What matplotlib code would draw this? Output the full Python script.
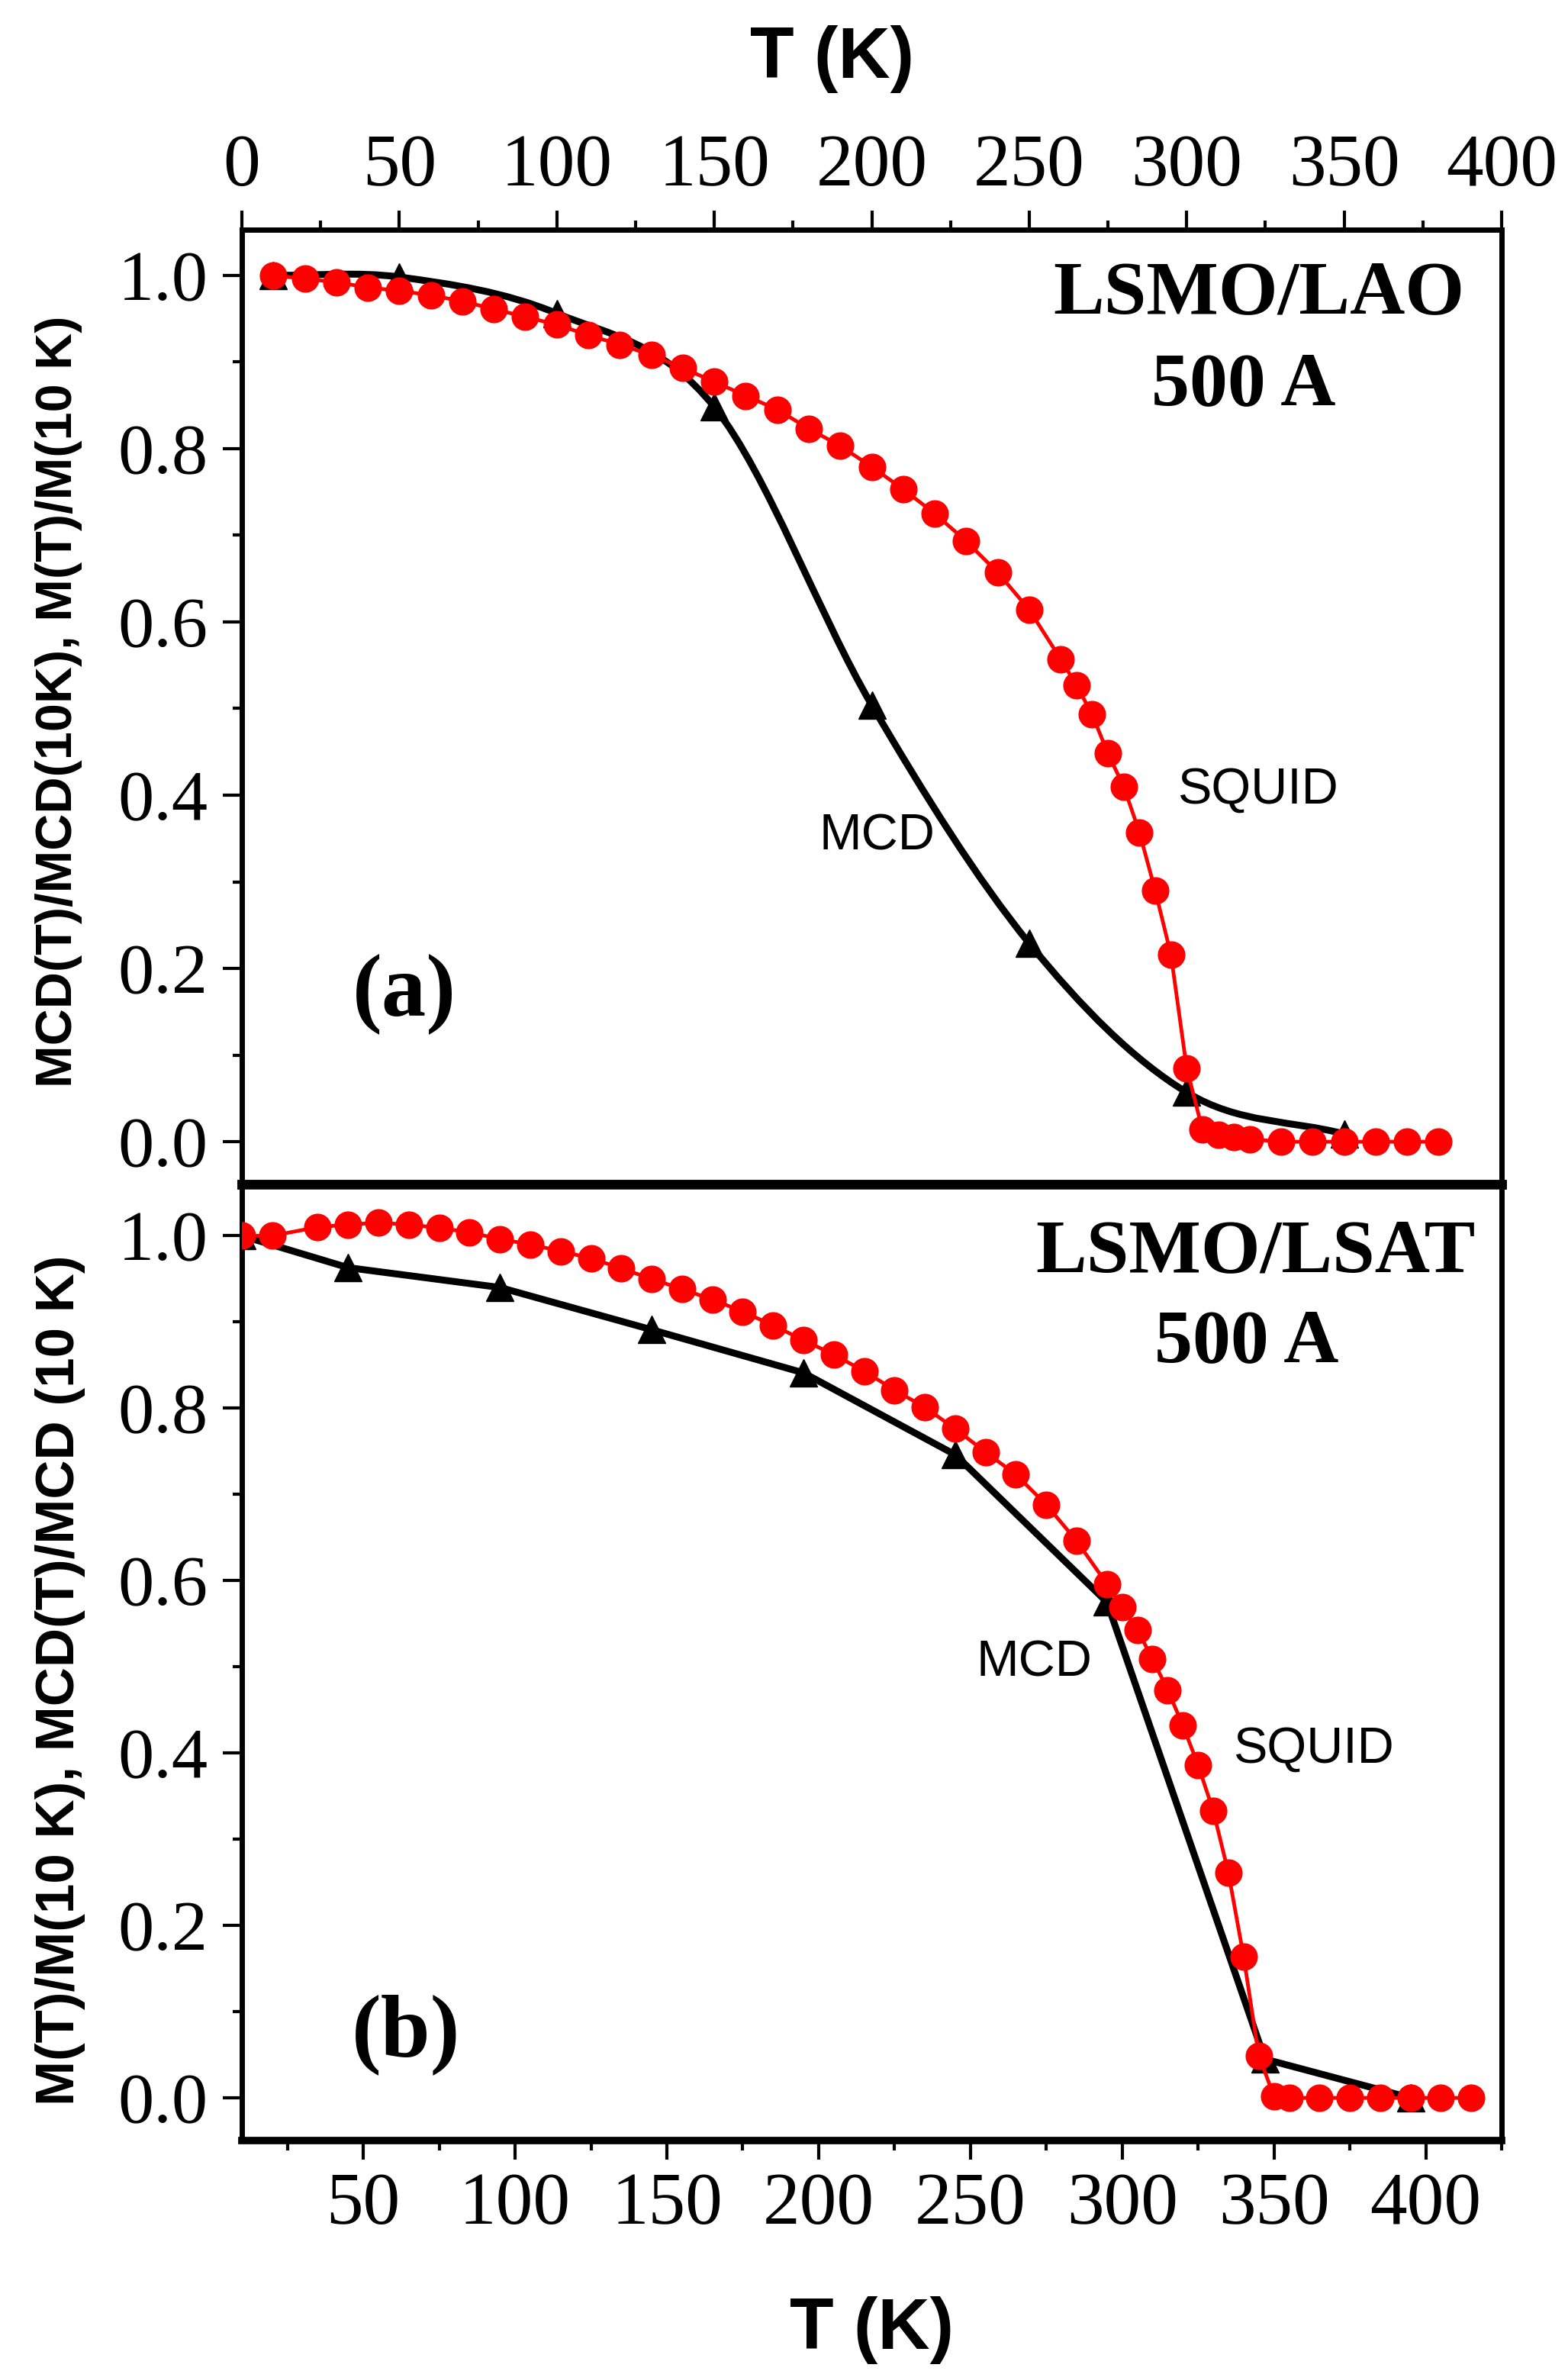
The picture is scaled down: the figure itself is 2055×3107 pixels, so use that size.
import numpy as np
import matplotlib
matplotlib.use("Agg")
import matplotlib.pyplot as plt
from matplotlib import font_manager
from matplotlib.path import Path
from matplotlib.patches import PathPatch
from matplotlib.ticker import MultipleLocator, FormatStrFormatter

# (a) LSMO/LAO, 500 A
lao_squid_T = [10, 20, 30, 40, 50, 60, 70, 80, 90, 100, 110, 120, 130, 140, 150,
               160, 170, 180, 190, 200, 210, 220, 230, 240, 250, 260, 265, 270,
               275, 280, 285, 290, 295, 300, 305, 310, 315, 320, 330, 340, 350,
               360, 370, 380]
lao_squid_M = [1.0, 0.996, 0.992, 0.986, 0.982, 0.977, 0.970, 0.961, 0.952, 0.943,
               0.931, 0.920, 0.908, 0.893, 0.877, 0.861, 0.845, 0.823, 0.803, 0.779,
               0.753, 0.725, 0.693, 0.657, 0.614, 0.557, 0.527, 0.493, 0.448, 0.410,
               0.357, 0.290, 0.216, 0.085, 0.014, 0.008, 0.005, 0.003, 0.0, 0.0,
               0.0, 0.0, 0.0, 0.0]
lao_mcd_T = [10, 50, 100, 150, 200, 250, 300, 350]
lao_mcd_M = [1.0, 0.998, 0.956, 0.848, 0.504, 0.229, 0.057, 0.009]

# (b) LSMO/LSAT, 500 A
lsat_squid_T = [10, 20, 35, 45, 55, 65, 75, 85, 95, 105, 115, 125, 135, 145, 155,
                165, 175, 185, 195, 205, 215, 225, 235, 245, 255, 265, 275, 285,
                295, 300, 305, 310, 315, 320, 325, 330, 335, 340, 345, 350, 355,
                365, 375, 385, 395, 405, 415]
lsat_squid_M = [1.0, 1.0, 1.010, 1.013, 1.015, 1.013, 1.009, 1.004, 0.996, 0.990,
                0.982, 0.974, 0.962, 0.950, 0.938, 0.926, 0.912, 0.896, 0.879, 0.862,
                0.843, 0.821, 0.801, 0.776, 0.749, 0.723, 0.688, 0.646, 0.596, 0.569,
                0.543, 0.509, 0.473, 0.432, 0.386, 0.333, 0.261, 0.164, 0.049, 0.002,
                0.0, 0.0, 0.0, 0.0, 0.0, 0.0, 0.0]
lsat_mcd_T = [10, 45, 95, 145, 195, 245, 295, 347, 395]
lsat_mcd_M = [1.0, 0.963, 0.940, 0.891, 0.841, 0.746, 0.575, 0.045, 0.0]

W, H = 2055, 3107
RED = "#ff0000"

installed = {f.name for f in font_manager.fontManager.ttflist}
NARROW = "Liberation Sans Narrow" in installed
LABEL_FONT = "Liberation Sans Narrow" if NARROW else "Liberation Sans"
TOP_LABEL_SIZE = 58 if NARROW else 48
BOT_LABEL_SIZE = 61 if NARROW else 51

plt.rcParams["font.family"] = "Liberation Serif"


def smooth_path(x, y):
    """Cubic Bezier path through the points (Hermite tangents from neighbours)."""
    x = np.asarray(x, float)
    y = np.asarray(y, float)
    n = len(x)
    m = np.empty(n)
    m[0] = (y[1] - y[0]) / (x[1] - x[0])
    m[-1] = (y[-1] - y[-2]) / (x[-1] - x[-2])
    for i in range(1, n - 1):
        m[i] = (y[i + 1] - y[i - 1]) / (x[i + 1] - x[i - 1])
    verts = [(x[0], y[0])]
    codes = [Path.MOVETO]
    for i in range(n - 1):
        h = x[i + 1] - x[i]
        verts += [(x[i] + h / 3, y[i] + m[i] * h / 3),
                  (x[i + 1] - h / 3, y[i + 1] - m[i + 1] * h / 3),
                  (x[i + 1], y[i + 1])]
        codes += [Path.CURVE4] * 3
    return Path(verts, codes)


def style_axis(ax, top):
    ax.yaxis.set_major_locator(MultipleLocator(0.2))
    ax.yaxis.set_minor_locator(MultipleLocator(0.1))
    ax.yaxis.set_major_formatter(FormatStrFormatter("%.1f"))
    ax.xaxis.set_minor_locator(MultipleLocator(25))
    ax.tick_params(axis="both", which="major", direction="out", length=18, width=3)
    ax.tick_params(axis="both", which="minor", direction="out", length=9, width=3)
    ax.tick_params(axis="y", which="both", left=True, right=False, labelsize=68, pad=14)
    if top:
        ax.tick_params(axis="x", which="both", top=True, bottom=False,
                       labeltop=True, labelbottom=False, labelsize=70, pad=9)
    else:
        ax.tick_params(axis="x", which="both", top=False, bottom=True,
                       labeltop=False, labelbottom=True, labelsize=70, pad=12)
    for sp in ax.spines.values():
        sp.set_linewidth(5)


fig = plt.figure(figsize=(W / 100, H / 100), dpi=100)
left, width = 317 / W, (1968 - 317) / W
ax1 = fig.add_axes([left, 1 - 1552 / H, width, (1552 - 301) / H])
ax2 = fig.add_axes([left, 1 - 2805 / H, width, (2805 - 1552) / H])

# --- panel (a)
ax1.add_patch(PathPatch(smooth_path(lao_mcd_T, lao_mcd_M), facecolor="none",
                        edgecolor="black", lw=6.5, zorder=2))
ax1.plot(lao_mcd_T, lao_mcd_M, ls="none", marker="^", ms=26, color="black", zorder=3)
ax1.plot(lao_squid_T, lao_squid_M, color=RED, lw=3.5, marker="o", ms=25,
         mec=RED, mfc=RED, zorder=4)
ax1.set_xlim(0, 400)
ax1.set_ylim(-0.0492, 1.0526)
ax1.set_xticks(np.arange(0, 401, 50))
style_axis(ax1, top=True)
ax1.spines["bottom"].set_linewidth(9)

ax1.text(323, 0.978, "LSMO/LAO", fontsize=72, fontweight="bold", ha="center", va="center")
ax1.text(318, 0.872, "500 A", fontsize=72, fontweight="bold", ha="center", va="center")
ax1.text(51.6, 0.171, "(a)", fontsize=84, fontweight="bold", ha="center", va="center")
ax1.text(201.7, 0.352, "MCD", fontsize=48, family="Liberation Sans", ha="center", va="center")
ax1.text(322.6, 0.406, "SQUID", fontsize=48, family="Liberation Sans", ha="center", va="center")

# --- panel (b)
ax2.plot(lsat_mcd_T, lsat_mcd_M, color="black", lw=6.5, marker="^", ms=26, zorder=3)
ax2.plot(lsat_squid_T, lsat_squid_M, color=RED, lw=3.5, marker="o", ms=25,
         mec=RED, mfc=RED, zorder=4)
ax2.set_xlim(10, 425)
ax2.set_ylim(-0.0495, 1.0596)
ax2.set_xticks(np.arange(50, 401, 50))
style_axis(ax2, top=False)
ax2.spines["top"].set_linewidth(9)
ax2.spines["bottom"].set_linewidth(7)

ax2.text(344, 0.980, "LSMO/LSAT", fontsize=72, fontweight="bold", ha="center", va="center")
ax2.text(341, 0.875, "500 A", fontsize=72, fontweight="bold", ha="center", va="center")
ax2.text(64, 0.073, "(b)", fontsize=84, fontweight="bold", ha="center", va="center")
ax2.text(271, 0.504, "MCD", fontsize=48, family="Liberation Sans", ha="center", va="center")
ax2.text(363, 0.404, "SQUID", fontsize=48, family="Liberation Sans", ha="center", va="center")

# axis titles
fig.text(1091 / W, 1 - 77 / H, "T (K)", fontsize=68, fontweight="bold",
         family="Liberation Sans", ha="center", va="center")
fig.text(1143 / W, 1 - 3054 / H, "T (K)", fontsize=68, fontweight="bold",
         family="Liberation Sans", ha="center", va="center")
fig.text(77 / W, 1 - 919 / H, "MCD(T)/MCD(10K), M(T)/M(10 K)", rotation=90,
         fontsize=TOP_LABEL_SIZE, fontweight="bold", family=LABEL_FONT,
         ha="center", va="center")
fig.text(79 / W, 1 - 2202 / H, "M(T)/M(10 K), MCD(T)/MCD (10 K)", rotation=90,
         fontsize=BOT_LABEL_SIZE, fontweight="bold", family=LABEL_FONT,
         ha="center", va="center")

fig.savefig("out.png", dpi=100, facecolor="white")
